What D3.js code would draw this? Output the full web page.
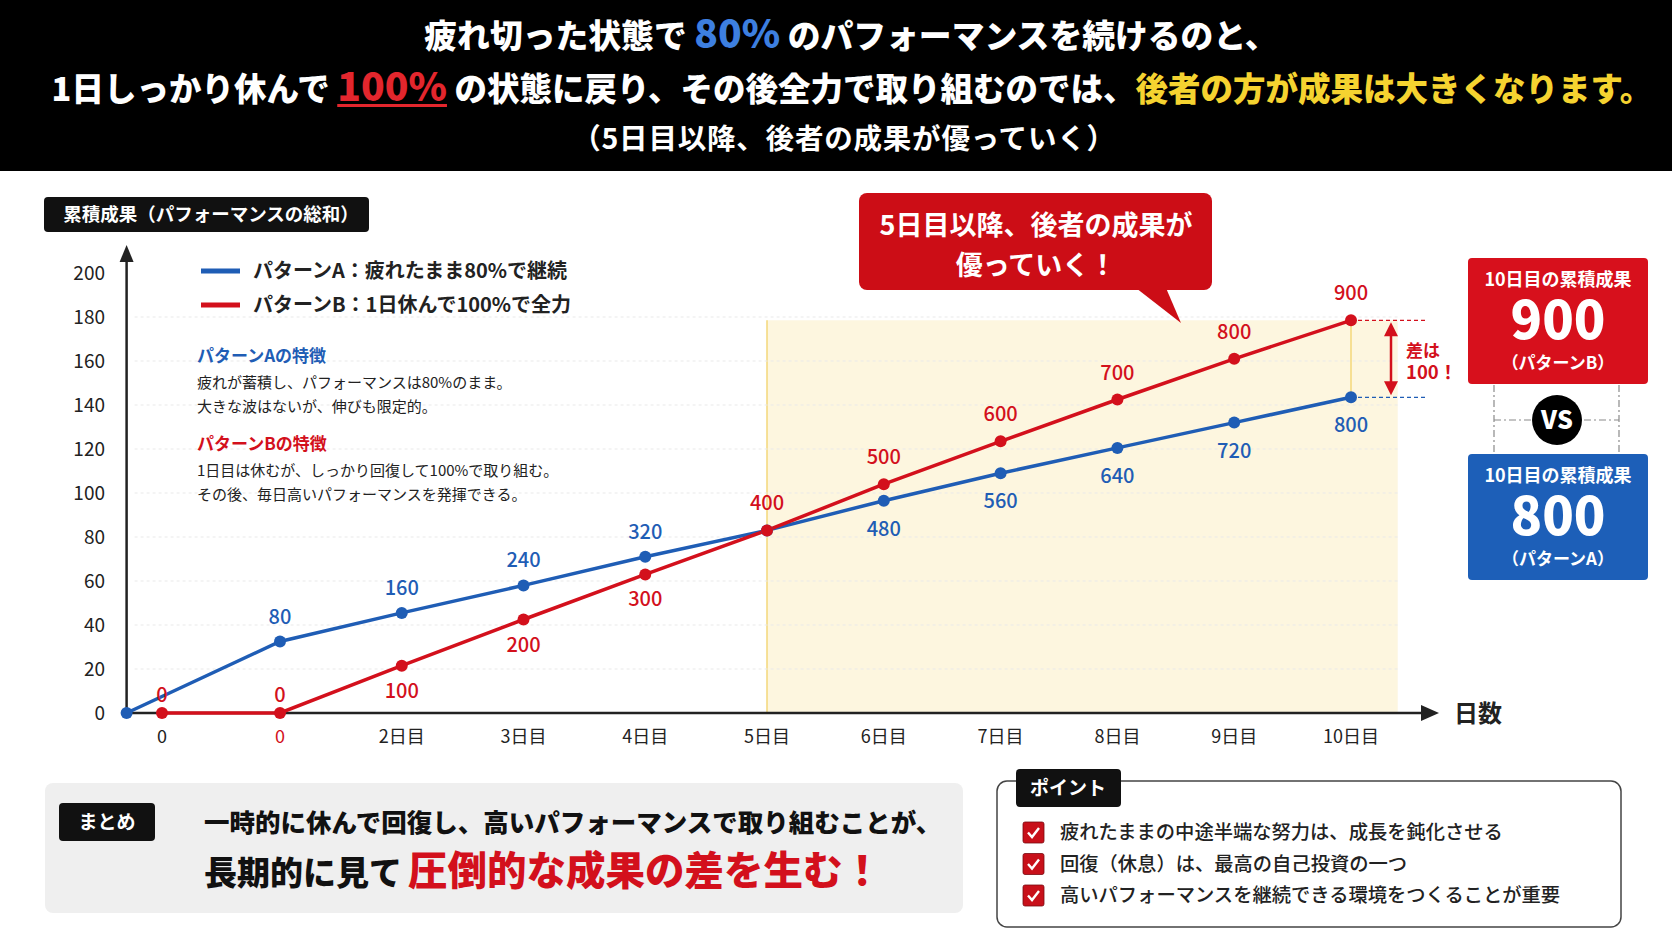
<!DOCTYPE html>
<html>
<head>
<meta charset="utf-8">
<script src="https://cdn.jsdelivr.net/npm/d3@7"></script>
<style>
  html, body { margin: 0; padding: 0; background: #fff; }
  svg { display: block; font-family: "Noto Sans CJK JP", "Noto Sans", sans-serif; }
</style>
</head>
<body>
<script>
const width = 1672,
    height = 941;

// ---- data ----
const days = [0, 1, 2, 3, 4, 5, 6, 7, 8, 9, 10];
const daysA = [-0.3, 1, 2, 3, 4, 5, 6, 7, 8, 9, 10];
const xLabels = ["0", "0", "2日目", "3日目", "4日目", "5日目", "6日目", "7日目", "8日目", "9日目", "10日目"];
const valuesA = [0, 32.5, 45.5, 58, 71, 83, 96.5, 109, 120.5, 132, 143.5];
const valuesB = [0, 0, 21.5, 42.5, 63, 83, 104, 123.5, 142.5, 161, 178.5];
const labelsA = ["", "80", "160", "240", "320", "", "480", "560", "640", "720", "800"];
const labelsB = ["0", "0", "100", "200", "300", "400", "500", "600", "700", "800", "900"];
const yTicks = [0, 20, 40, 60, 80, 100, 120, 140, 160, 180, 200];
const gridTicks = [20, 40, 60, 80, 100, 120, 140, 160, 180];
const legendItems = ["パターンA：疲れたまま80%で継続", "パターンB：1日休んで100%で全力"];
const noteA = ["疲れが蓄積し、パフォーマンスは80%のまま。", "大きな波はないが、伸びも限定的。"];
const noteB = ["1日目は休むが、しっかり回復して100%で取り組む。", "その後、毎日高いパフォーマンスを発揮できる。"];
const points = ["疲れたままの中途半端な努力は、成長を鈍化させる", "回復（休息）は、最高の自己投資の一つ", "高いパフォーマンスを継続できる環境をつくることが重要"];
const highlightFrom = 5;

const blue = "#1f5db5",
    red = "#d3101c",
    ink = "#222";

const svg = d3.select("body").append("svg")
    .attr("width", width)
    .attr("height", height);

svg.append("rect").attr("width", width).attr("height", height).attr("fill", "#fff");

function draw() {
    // ---- header ----
    svg.append("rect").attr("width", width).attr("height", 171).attr("fill", "#000");

    const t1 = svg.append("text")
        .attr("x", 851).attr("y", 48)
        .attr("text-anchor", "middle")
        .attr("font-size", 32.8).attr("font-weight", 900).attr("fill", "#fff");
    t1.append("tspan").text("疲れ切った状態で ");
    t1.append("tspan").attr("fill", "#3d7fe0").attr("font-size", 39).text("80%");
    t1.append("tspan").text(" のパフォーマンスを続けるのと、");

    const t2 = svg.append("text")
        .attr("x", 852).attr("y", 101)
        .attr("text-anchor", "middle")
        .attr("font-size", 32.5).attr("font-weight", 900).attr("fill", "#fff");
    t2.append("tspan").text("1日しっかり休んで ");
    const hundred = t2.append("tspan").attr("fill", "#e3262d").attr("font-size", 39).text("100%");
    t2.append("tspan").text(" の状態に戻り、その後全力で取り組むのでは、");
    t2.append("tspan").attr("fill", "#f5d330").text("後者の方が成果は大きくなります。");

    const hNode = hundred.node();
    const hStart = hNode.getStartPositionOfChar(0).x;
    const hLen = hNode.getComputedTextLength();
    svg.append("rect")
        .attr("x", hStart).attr("y", 104)
        .attr("width", hLen).attr("height", 3)
        .attr("fill", "#e3262d");

    svg.append("text")
        .attr("x", 844).attr("y", 149)
        .attr("text-anchor", "middle")
        .attr("font-size", 28.5).attr("font-weight", 700).attr("fill", "#fff")
        .attr("letter-spacing", 0.8)
        .text("（5日目以降、後者の成果が優っていく）");

    // ---- scales ----
    const x = d3.scaleLinear().domain([0, 1, 5, 10]).range([162, 280, 767, 1351]);
    const y = d3.scaleLinear().domain([0, 200]).range([713, 273]);
    const x0 = x(daysA[0]);

    // highlight region
    svg.append("rect")
        .attr("x", x(highlightFrom)).attr("y", y(d3.max(valuesB)))
        .attr("width", x(10.4) - x(highlightFrom))
        .attr("height", y(0) - y(d3.max(valuesB)))
        .attr("fill", "#fdf6df");
    svg.append("line")
        .attr("x1", x(highlightFrom)).attr("x2", x(highlightFrom))
        .attr("y1", y(d3.max(valuesB))).attr("y2", y(0))
        .attr("stroke", "#f3d77a").attr("stroke-width", 1.5);

    // grid
    svg.append("g").selectAll("line")
        .data(gridTicks).enter().append("line")
        .attr("x1", x0 + 8).attr("x2", x(10.4))
        .attr("y1", d => y(d)).attr("y2", d => y(d))
        .attr("stroke", "#e9e9e9").attr("stroke-width", 1)
        .attr("stroke-dasharray", "3,3");

    // y tick labels
    svg.append("g").selectAll("text")
        .data(yTicks).enter().append("text")
        .attr("x", 105).attr("y", d => y(d) + 7)
        .attr("text-anchor", "end")
        .attr("font-size", 19).attr("fill", ink)
        .text(d => d);

    // x tick labels
    svg.append("g").selectAll("text")
        .data(days).enter().append("text")
        .attr("x", d => x(d)).attr("y", d => y(0) + 30)
        .attr("text-anchor", "middle")
        .attr("font-size", 18).attr("fill", (d, i) => i === 1 ? red : ink)
        .text((d, i) => xLabels[i]);

    // axes with arrows
    svg.append("line")
        .attr("x1", x0).attr("x2", x0)
        .attr("y1", y(0) + 1).attr("y2", 258)
        .attr("stroke", ink).attr("stroke-width", 2.5);
    svg.append("path")
        .attr("d", d3.line()([[x0 - 7, 262], [x0, 245], [x0 + 7, 262]]) + "Z")
        .attr("fill", ink);
    svg.append("line")
        .attr("x1", x0).attr("x2", 1425)
        .attr("y1", y(0)).attr("y2", y(0))
        .attr("stroke", ink).attr("stroke-width", 2.5);
    svg.append("path")
        .attr("d", d3.line()([[1421, y(0) - 8], [1439, y(0)], [1421, y(0) + 8]]) + "Z")
        .attr("fill", ink);
    svg.append("text")
        .attr("x", 1478).attr("y", y(0) + 9)
        .attr("text-anchor", "middle")
        .attr("font-size", 24).attr("font-weight", 700).attr("fill", ink)
        .text("日数");

    // y axis title
    svg.append("rect")
        .attr("x", 44).attr("y", 197).attr("width", 325).attr("height", 35)
        .attr("rx", 4).attr("fill", "#111");
    svg.append("text")
        .attr("x", 211).attr("y", 221)
        .attr("text-anchor", "middle")
        .attr("font-size", 18.5).attr("font-weight", 700).attr("fill", "#fff")
        .text("累積成果（パフォーマンスの総和）");

    // gap markers at day 10
    const last = days.length - 1;
    svg.append("line")
        .attr("x1", x(10)).attr("x2", x(10))
        .attr("y1", y(valuesB[last])).attr("y2", y(valuesA[last]))
        .attr("stroke", "#f3d77a").attr("stroke-width", 1.5);
    svg.append("line")
        .attr("x1", x(10)).attr("x2", 1425)
        .attr("y1", y(valuesB[last])).attr("y2", y(valuesB[last]))
        .attr("stroke", red).attr("stroke-width", 1.2).attr("stroke-dasharray", "4,3");
    svg.append("line")
        .attr("x1", x(10)).attr("x2", 1425)
        .attr("y1", y(valuesA[last])).attr("y2", y(valuesA[last]))
        .attr("stroke", blue).attr("stroke-width", 1.2).attr("stroke-dasharray", "4,3");

    const ax = 1391,
        aTop = y(valuesB[last]) + 2,
        aBot = y(valuesA[last]) - 2;
    svg.append("line")
        .attr("x1", ax).attr("x2", ax).attr("y1", aTop + 10).attr("y2", aBot - 10)
        .attr("stroke", red).attr("stroke-width", 2.5);
    svg.append("path")
        .attr("d", d3.line()([[ax - 7, aTop + 14], [ax, aTop], [ax + 7, aTop + 14]]) + "Z")
        .attr("fill", red);
    svg.append("path")
        .attr("d", d3.line()([[ax - 7, aBot - 14], [ax, aBot], [ax + 7, aBot - 14]]) + "Z")
        .attr("fill", red);
    const gap = svg.append("text")
        .attr("x", 1406).attr("y", 357)
        .attr("font-weight", 700).attr("fill", red);
    gap.append("tspan").attr("font-size", 17).text("差は");
    gap.append("tspan").attr("x", 1406).attr("dy", 22).attr("font-size", 18.5).text("100！");

    // ---- lines ----
    const seriesA = daysA.map((d, i) => ({ day: d, v: valuesA[i], label: labelsA[i], other: valuesB[i] }));
    const seriesB = days.map((d, i) => ({ day: d, v: valuesB[i], label: labelsB[i], other: valuesA[i] }));

    const line = d3.line().x(d => x(d.day)).y(d => y(d.v));

    svg.append("path").datum(seriesA)
        .attr("d", line).attr("fill", "none")
        .attr("stroke", blue).attr("stroke-width", 3.5);
    svg.append("path").datum(seriesB)
        .attr("d", line).attr("fill", "none")
        .attr("stroke", red).attr("stroke-width", 3.5);

    svg.append("g").selectAll("circle")
        .data(seriesA).enter().append("circle")
        .attr("cx", d => x(d.day)).attr("cy", d => y(d.v))
        .attr("r", 6).attr("fill", blue);
    svg.append("g").selectAll("circle")
        .data(seriesB).enter().append("circle")
        .attr("cx", d => x(d.day)).attr("cy", d => y(d.v))
        .attr("r", 6).attr("fill", red);

    // value labels: above when on top, below when under the other line
    svg.append("g").selectAll("text")
        .data(seriesA.filter(d => d.label)).enter().append("text")
        .attr("x", d => x(d.day))
        .attr("y", d => d.v > d.other ? y(d.v) - 18 : y(d.v) + 35)
        .attr("text-anchor", "middle")
        .attr("font-size", 20).attr("font-weight", 500).attr("fill", blue)
        .text(d => d.label);
    svg.append("g").selectAll("text")
        .data(seriesB).enter().append("text")
        .attr("x", d => x(d.day))
        .attr("y", d => {
            if (d.v === 0) return y(d.v) - 11;
            return d.v < d.other ? y(d.v) + 32 : y(d.v) - 20;
        })
        .attr("text-anchor", "middle")
        .attr("font-size", 20).attr("font-weight", 500).attr("fill", red)
        .text(d => d.label);

    // legend
    const legend = svg.append("g").selectAll("g")
        .data(legendItems).enter().append("g")
        .attr("transform", (d, i) => "translate(201," + (271 + i * 34) + ")");
    legend.append("line")
        .attr("x1", 0).attr("x2", 39)
        .attr("stroke", (d, i) => i === 0 ? blue : red).attr("stroke-width", 5);
    legend.append("text")
        .attr("x", 52).attr("y", 7)
        .attr("font-size", 20).attr("font-weight", 700).attr("fill", ink)
        .text(d => d);

    // notes
    function note(top, title, color, lines) {
        svg.append("text")
            .attr("x", 197).attr("y", top)
            .attr("font-size", 17).attr("font-weight", 700).attr("fill", color)
            .text(title);
        svg.append("g").selectAll("text")
            .data(lines).enter().append("text")
            .attr("x", 197).attr("y", (d, i) => top + 26 + i * 24)
            .attr("font-size", 15).attr("fill", ink)
            .text(d => d);
    }
    note(362, "パターンAの特徴", blue, noteA);
    note(450, "パターンBの特徴", red, noteB);

    // callout
    svg.append("path")
        .attr("d", d3.line()([[1136, 288], [1166, 288], [1181, 323]]) + "Z")
        .attr("fill", "#cc0d16");
    svg.append("rect")
        .attr("x", 859).attr("y", 193).attr("width", 353).attr("height", 97)
        .attr("rx", 8).attr("fill", "#cc0d16");
    const callout = svg.append("text")
        .attr("x", 1036).attr("y", 235)
        .attr("text-anchor", "middle")
        .attr("font-size", 27).attr("font-weight", 700).attr("fill", "#fff");
    callout.append("tspan").text("5日目以降、後者の成果が");
    callout.append("tspan").attr("x", 1036).attr("dy", 40).text("優っていく！");

    // ---- result boxes ----
    svg.append("g").selectAll("line")
        .data([[1494, 385, 1494, 454], [1619, 385, 1619, 454], [1494, 420, 1619, 420]])
        .enter().append("line")
        .attr("x1", d => d[0]).attr("y1", d => d[1])
        .attr("x2", d => d[2]).attr("y2", d => d[3])
        .attr("stroke", "#8a8a8a").attr("stroke-width", 1.2)
        .attr("stroke-dasharray", "7,3,2,3");

    function resultBox(top, fill, value, name) {
        svg.append("rect")
            .attr("x", 1468).attr("y", top).attr("width", 180).attr("height", 126)
            .attr("rx", 4).attr("fill", fill);
        const t = svg.append("text")
            .attr("x", 1558).attr("y", top + 28)
            .attr("text-anchor", "middle")
            .attr("font-weight", 700).attr("fill", "#fff");
        t.append("tspan").attr("font-size", 18).text("10日目の累積成果");
        t.append("tspan").attr("x", 1558).attr("dy", 53)
            .attr("font-size", 52).attr("font-weight", 900).text(value);
        t.append("tspan").attr("x", 1558).attr("dy", 30)
            .attr("font-size", 17).text(name);
    }
    resultBox(258, "#d7101c", labelsB[last], "（パターンB）");
    resultBox(454, "#1d5fb8", labelsA[last], "（パターンA）");

    svg.append("circle").attr("cx", 1557).attr("cy", 420).attr("r", 25).attr("fill", "#000");
    svg.append("text")
        .attr("x", 1557).attr("y", 429)
        .attr("text-anchor", "middle")
        .attr("font-size", 25).attr("font-weight", 900).attr("fill", "#fff")
        .text("VS");

    // ---- summary box ----
    svg.append("rect")
        .attr("x", 45).attr("y", 783).attr("width", 918).attr("height", 130)
        .attr("rx", 8).attr("fill", "#efefef");
    svg.append("rect")
        .attr("x", 59).attr("y", 803).attr("width", 96).attr("height", 38)
        .attr("rx", 4).attr("fill", "#111");
    svg.append("text")
        .attr("x", 107).attr("y", 829)
        .attr("text-anchor", "middle")
        .attr("font-size", 19).attr("font-weight", 700).attr("fill", "#fff")
        .text("まとめ");
    svg.append("text")
        .attr("x", 204).attr("y", 832)
        .attr("font-size", 25.5).attr("font-weight", 900).attr("fill", "#111")
        .text("一時的に休んで回復し、高いパフォーマンスで取り組むことが、");
    const s2 = svg.append("text")
        .attr("x", 204).attr("y", 885)
        .attr("font-weight", 900).attr("fill", "#111");
    s2.append("tspan").attr("font-size", 33).text("長期的に見て");
    s2.append("tspan").attr("dx", 6).attr("font-size", 39.5).attr("fill", red).text("圧倒的な成果の差を生む！");

    // ---- points box ----
    svg.append("rect")
        .attr("x", 997).attr("y", 781).attr("width", 624).attr("height", 146)
        .attr("rx", 10).attr("fill", "#fff")
        .attr("stroke", "#444").attr("stroke-width", 1.5);
    svg.append("rect")
        .attr("x", 1016).attr("y", 769).attr("width", 105).attr("height", 38)
        .attr("rx", 4).attr("fill", "#111");
    svg.append("text")
        .attr("x", 1068).attr("y", 795)
        .attr("text-anchor", "middle")
        .attr("font-size", 19).attr("font-weight", 700).attr("fill", "#fff")
        .text("ポイント");

    const item = svg.append("g").selectAll("g")
        .data(points).enter().append("g")
        .attr("transform", (d, i) => "translate(1023," + (832 + i * 31.5) + ")");
    item.append("rect")
        .attr("x", 0).attr("y", -10).attr("width", 21).attr("height", 21)
        .attr("rx", 2).attr("fill", "#c8101a")
        .attr("stroke", "#7a0a10").attr("stroke-width", 0.8);
    item.append("path")
        .attr("d", "M5,0.5 L9,5 L16,-4")
        .attr("fill", "none").attr("stroke", "#fff").attr("stroke-width", 2.4);
    item.append("text")
        .attr("x", 37).attr("y", 7)
        .attr("font-size", 19.3).attr("font-weight", 500).attr("fill", ink)
        .text(d => d);
}

document.fonts.ready.then(draw);
</script>
</body>
</html>
